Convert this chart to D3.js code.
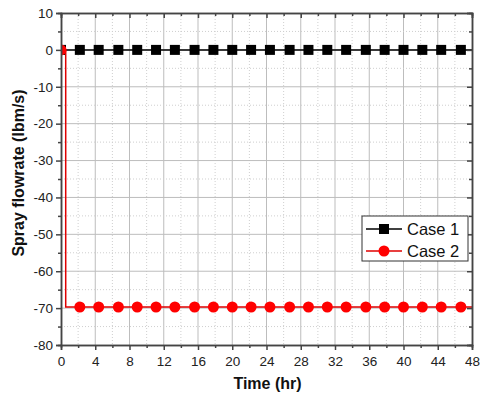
<!DOCTYPE html>
<html lang="en">
<head>
    <meta charset="UTF-8">
    <title>Spray flowrate</title>
    <script src="https://d3js.org/d3.v7.min.js"></script>
    <style>
        body{
            margin: 0;
            background: #ffffff;
        }
        svg{
            font-family: "Liberation Sans", Arial, sans-serif;
        }
        .tickLabel
        {
            font-size: 13.5px;
            fill: #222;
        }
        .axisTitle
        {
            font-size: 16px;
            font-weight: bold;
            fill: #111;
        }
    </style>
</head>
<body>
<svg width="480" height="400"></svg>
<script>
    // data
    let seriesNames = ["Case 1", "Case 2"]
    let case1Time = [0, 48]
    let case1Flow = [0, 0]
    let case2Time = [0, 0.55, 0.55, 48]
    let case2Flow = [0, 0, -69.7, -69.7]
    let markerTime = [0, 2.2, 4.4, 6.7, 8.9, 11.1, 13.3, 15.6, 17.8, 20.0, 22.2, 24.4, 26.7, 28.9, 31.1, 33.3, 35.6, 37.8, 40.0, 42.2, 44.4, 46.7]
    let case1MarkerFlow = markerTime.map(function (){return 0})
    let case2MarkerFlow = markerTime.map(function (t){return t === 0 ? 0 : -69.7})
    let xTicks = [0, 4, 8, 12, 16, 20, 24, 28, 32, 36, 40, 44, 48]
    let yTicks = [10, 0, -10, -20, -30, -40, -50, -60, -70, -80]

    let svg = d3.select('svg')
    let margins = {left:61, right:8, top:13, bottom:55}
    let W = 480, H = 400

    let xScale = d3.scaleLinear().domain([0, 48]).range([margins.left, W - margins.right])
    let yScale = d3.scaleLinear().domain([-80, 10]).range([H - margins.bottom, margins.top])

    let x0 = xScale(0), x1 = xScale(48), y0 = yScale(10), y1 = yScale(-80)

    // grid lines
    let xMinor = d3.range(2, 48, 4)
    let yMinor = d3.range(-75, 10, 10)
    let grid = svg.append('g')
    grid.selectAll('.gx').data(xTicks.slice(1, -1)).enter().append('line')
        .attr('x1', function (d){return xScale(d)}).attr('x2', function (d){return xScale(d)})
        .attr('y1', y0).attr('y2', y1)
        .attr('stroke', '#bdbdbd').attr('stroke-width', 1)
    grid.selectAll('.gxm').data(xMinor).enter().append('line')
        .attr('x1', function (d){return xScale(d)}).attr('x2', function (d){return xScale(d)})
        .attr('y1', y0).attr('y2', y1)
        .attr('stroke', '#cfcfcf').attr('stroke-width', 1).attr('stroke-dasharray', '1,2')
    grid.selectAll('.gy').data(yTicks.slice(1, -1)).enter().append('line')
        .attr('y1', function (d){return yScale(d)}).attr('y2', function (d){return yScale(d)})
        .attr('x1', x0).attr('x2', x1)
        .attr('stroke', '#bdbdbd').attr('stroke-width', 1)
    grid.selectAll('.gym').data(yMinor).enter().append('line')
        .attr('y1', function (d){return yScale(d)}).attr('y2', function (d){return yScale(d)})
        .attr('x1', x0).attr('x2', x1)
        .attr('stroke', '#cfcfcf').attr('stroke-width', 1).attr('stroke-dasharray', '1,2')

    // clip for data
    svg.append('clipPath').attr('id', 'plotClip').append('rect')
        .attr('x', x0).attr('y', y0).attr('width', x1 - x0).attr('height', y1 - y0)

    let plot = svg.append('g').attr('clip-path', 'url(#plotClip)')
    let line = d3.line().x(function (d){return xScale(d[0])}).y(function (d){return yScale(d[1])})

    plot.append('path').datum(d3.zip(case1Time, case1Flow))
        .attr('d', line).attr('fill', 'none').attr('stroke', '#000').attr('stroke-width', 1.5)
    plot.selectAll('.sq').data(d3.zip(markerTime, case1MarkerFlow)).enter().append('rect')
        .attr('x', function (d){return xScale(d[0]) - 5}).attr('y', function (d){return yScale(d[1]) - 5})
        .attr('width', 10).attr('height', 10).attr('fill', '#000')

    plot.append('path').datum(d3.zip(case2Time, case2Flow))
        .attr('d', line).attr('fill', 'none').attr('stroke', '#e00000').attr('stroke-width', 1.5)
    plot.selectAll('.ci').data(d3.zip(markerTime, case2MarkerFlow)).enter().append('circle')
        .attr('cx', function (d){return xScale(d[0])}).attr('cy', function (d){return yScale(d[1])})
        .attr('r', 5.5).attr('fill', '#ff0000')

    // axes
    let axisColor = '#444'
    let xAxisB = svg.append('g').attr('transform', 'translate(0,' + y1 + ')')
        .call(d3.axisBottom(xScale).tickValues(xTicks).tickSize(5).tickPadding(6))
    let xAxisBm = svg.append('g').attr('transform', 'translate(0,' + y1 + ')')
        .call(d3.axisBottom(xScale).tickValues(xMinor).tickSize(3).tickFormat(''))
    let xAxisT = svg.append('g').attr('transform', 'translate(0,' + y0 + ')')
        .call(d3.axisBottom(xScale).tickValues(xTicks).tickSize(5).tickFormat(''))
    let xAxisTm = svg.append('g').attr('transform', 'translate(0,' + y0 + ')')
        .call(d3.axisBottom(xScale).tickValues(xMinor).tickSize(3).tickFormat(''))
    let yAxisL = svg.append('g').attr('transform', 'translate(' + x0 + ',0)')
        .call(d3.axisLeft(yScale).tickValues(yTicks).tickSize(5).tickPadding(3))
    let yAxisLm = svg.append('g').attr('transform', 'translate(' + x0 + ',0)')
        .call(d3.axisLeft(yScale).tickValues(yMinor).tickSize(3).tickFormat(''))
    let yAxisR = svg.append('g').attr('transform', 'translate(' + x1 + ',0)')
        .call(d3.axisLeft(yScale).tickValues(yTicks).tickSize(5).tickFormat(''))
    let yAxisRm = svg.append('g').attr('transform', 'translate(' + x1 + ',0)')
        .call(d3.axisLeft(yScale).tickValues(yMinor).tickSize(3).tickFormat(''))

    let axes = [xAxisB, xAxisBm, xAxisT, xAxisTm, yAxisL, yAxisLm, yAxisR, yAxisRm]
    axes.forEach(function (a){
        a.select('.domain').attr('stroke', axisColor).attr('stroke-width', 1.5)
        a.selectAll('.tick line').attr('stroke', axisColor).attr('stroke-width', 1.5)
        a.selectAll('.tick text').attr('class', 'tickLabel').attr('font-family', null).attr('font-size', null)
    })
    xAxisB.selectAll('.tick text').text(function (d){return d})
    yAxisL.selectAll('.tick text').text(function (d){return d})

    // axis titles
    svg.append('text').attr('class', 'axisTitle')
        .attr('x', (x0 + x1) / 2 + 1).attr('y', 389).attr('text-anchor', 'middle')
        .text('Time (hr)')
    svg.append('text').attr('class', 'axisTitle')
        .attr('transform', 'translate(24,' + ((y0 + y1) / 2 - 6) + ') rotate(-90)')
        .attr('text-anchor', 'middle')
        .text('Spray flowrate (lbm/s)')

    // legend
    let legend = svg.append('g').attr('transform', 'translate(362,216)')
    legend.append('rect').attr('width', 106).attr('height', 45)
        .attr('fill', '#fff').attr('stroke', '#333').attr('stroke-width', 1)
    let colors = ['#000', '#e00000']
    seriesNames.forEach(function (name, i){
        let ly = 13 + i * 22
        legend.append('line').attr('x1', 4).attr('x2', 40).attr('y1', ly).attr('y2', ly)
            .attr('stroke', colors[i]).attr('stroke-width', 1.5)
        if (i === 0){
            legend.append('rect').attr('x', 17).attr('y', ly - 5).attr('width', 10).attr('height', 10).attr('fill', '#000')
        } else {
            legend.append('circle').attr('cx', 22).attr('cy', ly).attr('r', 5.5).attr('fill', '#ff0000')
        }
        legend.append('text').attr('x', 45).attr('y', ly + 6)
            .style('font-size', '16.5px').style('fill', '#111')
            .text(name)
    })
</script>
</body>
</html>
